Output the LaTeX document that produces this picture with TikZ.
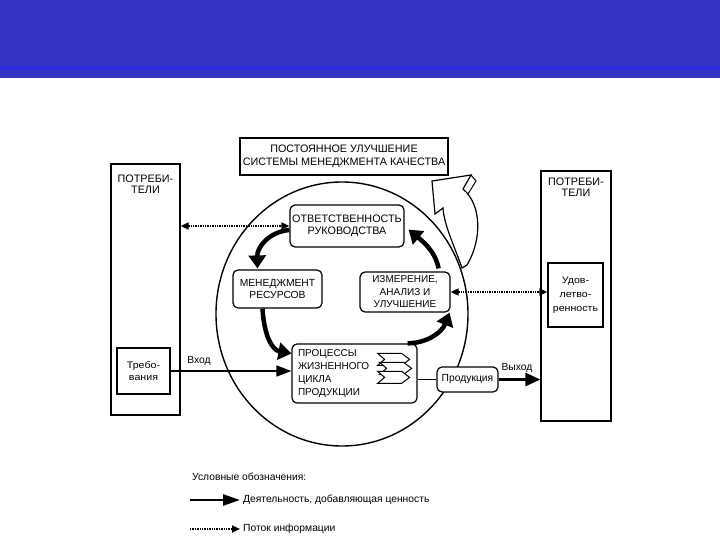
\documentclass[tikz,border=0pt]{standalone}
\usepackage{fontspec}
\setmainfont{Liberation Sans}
\newfontfamily\widefont[FakeStretch=1.12]{Liberation Sans}
\usetikzlibrary{arrows.meta,shapes.geometric,calc}
\definecolor{band}{RGB}{51,51,196}
\definecolor{bandlight}{RGB}{44,44,222}
\begin{document}
\begin{tikzpicture}[x=1pt,y=-1pt,
  rbox/.style={draw, fill=white, line width=1.2pt, rounded corners=5pt, align=center,
    font=\fontsize{10.5}{12}\selectfont, inner sep=1pt},
  sbox/.style={draw, fill=white, line width=1.2pt, inner sep=0pt},
  small/.style={font=\widefont\fontsize{9.5}{12}\selectfont, align=center, inner sep=0pt},
  caps/.style={font=\fontsize{10.8}{11}\selectfont, align=center, inner sep=0pt},
  flow/.style={line width=4.5pt, -{Triangle[width=17pt,length=13pt]}},
  info/.style={line width=1.6pt, dash pattern=on 1.4pt off 1pt,
    {Triangle[width=7pt,length=8pt]}-{Triangle[width=7pt,length=8pt]}},
  infoone/.style={line width=1.6pt, dash pattern=on 1.4pt off 1pt,
    -{Triangle[width=7pt,length=8pt]}},
  leg/.style={font=\fontsize{10.3}{12}\selectfont, anchor=west, inner sep=0pt}]
\useasboundingbox (0,0) rectangle (720,540);
\fill[white] (0,0) rectangle (720,540);
% header band
\fill[band] (0,0) rectangle (720,78);
\fill[bandlight] (0,66) rectangle (720,70);

% customers boxes
\node[sbox, minimum width=69pt, minimum height=251pt] (lbox) at (145.5,289.5) {};
\node[caps] (ltxt) at (145.5,184) {ПОТРЕБИ-\\ТЕЛИ};
\node[sbox, minimum width=70pt, minimum height=250pt] (rbox) at (576,296) {};
\node[caps] (rtxt) at (576,187.5) {ПОТРЕБИ-\\ТЕЛИ};
\node[sbox, minimum width=53pt, minimum height=46pt, small] (treb) at (143.5,371) {Требо-\\вания};
\node[sbox, minimum width=55pt, minimum height=64pt, font=\widefont\fontsize{9.5}{14}\selectfont, align=center] (udov) at (575.5,295) {Удов-\\летво-\\ренность};

% title box
\node[draw, line width=2pt, fill=white, minimum width=208pt, minimum height=37pt, align=center,
  font=\fontsize{10.8}{12.5}\selectfont, inner sep=0pt] (title) at (344,156.5)
  {ПОСТОЯННОЕ УЛУЧШЕНИЕ\\СИСТЕМЫ МЕНЕДЖМЕНТА КАЧЕСТВА};

% big circle
\node[draw, ellipse, line width=1.4pt, minimum width=252pt, minimum height=264pt, inner sep=0pt] (cyc) at (342,314) {};

% hollow improvement arrow
\coordinate (hbot) at (462,268);
\draw[fill=white, line width=1.2pt, line join=miter]
  (hbot) .. controls (454,245) and (444,225) .. (443,208)
  -- (435,214) -- (432,181) -- (471,175) -- (463,189)
  .. controls (482,205) and (482,240) .. (467,265) -- cycle;
\draw[line width=1pt] (471,175) -- (476,181) -- (468,194);

% process boxes
\node[rbox, minimum width=114pt, minimum height=42pt, font=\fontsize{10.8}{12}\selectfont] (otv) at (347,226) {ОТВЕТСТВЕННОСТЬ\\РУКОВОДСТВА};
\node[rbox, minimum width=89pt, minimum height=38pt, font=\fontsize{10.3}{12.5}\selectfont] (men) at (277.5,289) {МЕНЕДЖМЕНТ\\РЕСУРСОВ};
\node[rbox, minimum width=90pt, minimum height=40pt, font=\fontsize{10}{12.5}\selectfont] (izm) at (405,292) {ИЗМЕРЕНИЕ,\\АНАЛИЗ И\\УЛУЧШЕНИЕ};
\node[rbox, minimum width=125pt, minimum height=53pt, text width=113pt, align=left,
  font=\fontsize{10}{12.7}\selectfont, inner sep=6pt] (proc) at (354.5,373.5)
  {ПРОЦЕССЫ\\ЖИЗНЕННОГО\\ЦИКЛА\\ПРОДУКЦИИ};
% chevrons
\foreach \dx/\dy in {0/0, 2/9, 0/18}{
  \draw[fill=white, line width=1pt, line join=miter]
    ($(proc.north east)+(-40+\dx,10+\dy)$) -- ++(24,0) -- ++(8,6) -- ++(-8,6) -- ++(-24,0) -- ++(7,-6) -- cycle;
}
\node[rbox, minimum width=61pt, minimum height=25pt, font=\fontsize{10.3}{12}\selectfont, inner sep=0pt] (prod) at (467.5,379.5) {Продукция};

% flows
\draw[flow] ($(otv.west)+(0,4)$) .. controls (268,232) and (257,248) .. ($(men.north)+(-20,-1)$);
\draw[flow] ($(men.south)+(-15,0)$) .. controls (264,335) and (272,350) .. ($(proc.west)+(0,-20)$);
\draw[flow] ($(proc.north east)+(-10,0)$) .. controls (428,343) and (442,332) .. ($(izm.south east)+(-1,0)$);
\draw[flow] ($(izm.north east)+(-12,-3)$) .. controls (435,250) and (421,240) .. ($(otv.south east)+(4,-18)$);

% input / output
\draw[line width=1.6pt, -{Triangle[width=11pt,length=15pt]}] (treb.east) -- (treb.east -| proc.west);
\node[font=\fontsize{10.3}{12}\selectfont, inner sep=0pt] (vhod) at (199,361) {Вход};
\draw[line width=1.3pt] (proc.east |- prod.west) -- (prod.west);
\draw[line width=2.6pt, -{Triangle[width=13pt,length=15pt]}] (prod.east) -- (prod.east -| rbox.west);
\node[font=\fontsize{10.3}{12}\selectfont, inner sep=0pt] (vyhod) at (517,368) {Выход};

% information flows
\draw[info] (lbox.east |- otv.west) -- (otv.west);
\draw[info] (izm.east) -- (izm.east -| udov.west);

% legend
\node[leg] (legt) at (192,477) {Условные обозначения:};
\coordinate (l1a) at (190,500);
\coordinate (l1b) at (240,500);
\draw[line width=2.6pt, -{Triangle[width=11pt,length=17pt]}] (l1a) -- (l1b);
\node[leg] (leg1) at (243,500) {Деятельность, добавляющая ценность};
\coordinate (l2a) at (190,529);
\coordinate (l2b) at (240,529);
\draw[infoone] (l2a) -- (l2b);
\node[leg] (leg2) at (243,529) {Поток информации};
\end{tikzpicture}
\end{document}
